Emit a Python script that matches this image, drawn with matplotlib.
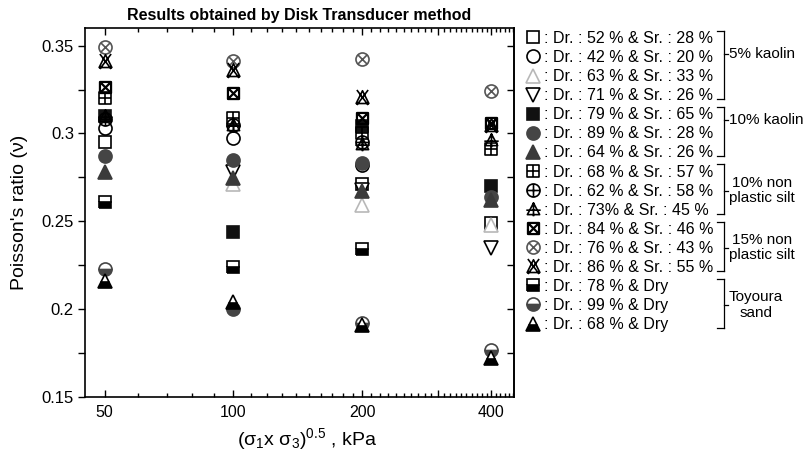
import numpy as np
import matplotlib
matplotlib.use("Agg")
import matplotlib.pyplot as plt
from matplotlib.path import Path
from matplotlib.lines import Line2D
from matplotlib.ticker import FixedLocator, FixedFormatter, NullFormatter

plt.rcParams['font.family'] = ['Liberation Sans', 'DejaVu Sans']
plt.rcParams['mathtext.fontset'] = 'custom'
plt.rcParams['mathtext.rm'] = 'Liberation Sans'
plt.rcParams['mathtext.it'] = 'Liberation Sans:italic'
plt.rcParams['mathtext.bf'] = 'Liberation Sans:bold'

nan = np.nan

# mean effective stress, kPa
stress = [50, 100, 200, 400]

# Poisson's ratio for each specimen (nan = no reading)
nu_k5_52 = [0.295, nan, 0.271, 0.249]
nu_k5_42 = [0.303, 0.2976, 0.282, nan]
nu_k5_63 = [nan, 0.271, 0.259, 0.248]
nu_k5_71 = [nan, 0.278, 0.268, 0.235]
nu_k10_79 = [0.310, 0.244, 0.304, 0.270]
nu_k10_89 = [0.287, 0.285, 0.283, 0.264]
nu_k10_64 = [0.278, 0.2745, 0.267, 0.262]
nu_s10_68 = [0.320, 0.309, 0.300, 0.291]
nu_s10_62 = [0.308, 0.305, 0.295, nan]
nu_s10_73 = [0.310, 0.305, 0.294, 0.296]
nu_s15_84 = [0.3266, 0.323, 0.309, 0.306]
nu_s15_76 = [0.349, 0.341, 0.3426, 0.324]
nu_s15_86 = [0.341, 0.336, 0.321, 0.305]
nu_ts_78 = [0.261, 0.224, 0.234, nan]
nu_ts_99 = [0.223, 0.200, 0.192, 0.177]
nu_ts_68 = [0.216, 0.204, 0.191, 0.172]

labels = [
    ": Dr. : 52 % & Sr. : 28 %",
    ": Dr. : 42 % & Sr. : 20 %",
    ": Dr. : 63 % & Sr. : 33 %",
    ": Dr. : 71 % & Sr. : 26 %",
    ": Dr. : 79 % & Sr. : 65 %",
    ": Dr. : 89 % & Sr. : 28 %",
    ": Dr. : 64 % & Sr. : 26 %",
    ": Dr. : 68 % & Sr. : 57 %",
    ": Dr. : 62 % & Sr. : 58 %",
    ": Dr. : 73% & Sr. : 45 %",
    ": Dr. : 84 % & Sr. : 46 %",
    ": Dr. : 76 % & Sr. : 43 %",
    ": Dr. : 86 % & Sr. : 55 %",
    ": Dr. : 78 % & Dry",
    ": Dr. : 99 % & Dry",
    ": Dr. : 68 % & Dry",
]

# (label, first row, last row, label offset from first row in px or None = centred)
groups = [("5% kaolin", 0, 3, 16), ("10% kaolin", 4, 6, 6),
          ("10% non\nplastic silt", 7, 9, None), ("15% non\nplastic silt", 10, 12, None),
          ("Toyoura\nsand", 13, 15, None)]

xticks_major = [50, 100, 200, 300, 400]
xtick_labels = ["50", "100", "200", "", "400"]


# ---- custom marker glyphs ----
M, L, C = Path.MOVETO, Path.LINETO, Path.CLOSEPOLY


def seg(*pts):
    return Path(pts, [M] + [L] * (len(pts) - 1))


def closed(*pts):
    return Path(list(pts) + [pts[0]], [M] + [L] * (len(pts) - 1) + [C])


sq = closed((-1, -1), (1, -1), (1, 1), (-1, 1))
circ = Path.unit_circle()

sq_plus = Path.make_compound_path(sq, seg((0, -1), (0, 1)), seg((-1, 0), (1, 0)))
sq_x = Path.make_compound_path(sq, seg((-1, -1), (1, 1)), seg((-1, 1), (1, -1)))
circ_plus = Path.make_compound_path(circ, seg((0, -1), (0, 1)), seg((-1, 0), (1, 0)))
circ_x = Path.make_compound_path(circ, seg((-0.707, -0.707), (0.707, 0.707)),
                                 seg((-0.707, 0.707), (0.707, -0.707)))
tri_plus = Path.make_compound_path(closed((-0.9, -0.75), (0.9, -0.75), (0, 0.95)),
                                   seg((0, 1.0), (0, -1.0)), seg((-1.05, -0.1), (1.05, -0.1)))
tri_x = Path.make_compound_path(closed((-0.85, -0.8), (0.85, -0.8), (0, 0.9)),
                                seg((-0.75, 1.0), (0.75, -1.0)), seg((0.75, 1.0), (-0.75, -1.0)))

MS = 9.4
MEW = 1.2

styles = [
    dict(marker='s', mfc='white', mec='black', ms=MS * 0.9),
    dict(marker='o', mfc='white', mec='black'),
    dict(marker='^', mfc='white', mec='#b8b8b8'),
    dict(marker='v', mfc='white', mec='black'),
    dict(marker='s', mfc='#111111', mec='#111111', ms=MS * 0.9),
    dict(marker='o', mfc='#454545', mec='#454545'),
    dict(marker='^', mfc='#3a3a3a', mec='#3a3a3a'),
    dict(marker=sq_plus, mfc='none', mec='black', ms=MS * 0.88),
    dict(marker=circ_plus, mfc='none', mec='black'),
    dict(marker=tri_plus, mfc='none', mec='black', ms=MS * 1.1),
    dict(marker=sq_x, mfc='none', mec='black', ms=MS * 0.85, mew=1.6),
    dict(marker=circ_x, mfc='none', mec='#555555'),
    dict(marker=tri_x, mfc='none', mec='black', ms=MS * 1.15),
    dict(marker='s', mfc='black', mfcalt='white', fillstyle='bottom', mec='black', ms=MS * 0.85),
    dict(marker='o', mfc='#454545', mfcalt='white', fillstyle='bottom', mec='#454545'),
    dict(marker='^', mfc='black', mfcalt='white', fillstyle='bottom', mec='black'),
]

series = [nu_k5_52, nu_k5_42, nu_k5_63, nu_k5_71, nu_k10_79, nu_k10_89, nu_k10_64,
          nu_s10_68, nu_s10_62, nu_s10_73, nu_s15_84, nu_s15_76, nu_s15_86,
          nu_ts_78, nu_ts_99, nu_ts_68]

W, H = 806, 455
fig = plt.figure(figsize=(W / 100, H / 100), dpi=100)
ax = fig.add_axes([85 / W, 1 - 397 / H, (514 - 85) / W, (397 - 28) / H])

handles = []
for vals, st, lab in zip(series, styles, labels):
    st = dict(st)
    ms = st.pop('ms', MS)
    mew = st.pop('mew', MEW)
    mfcalt = st.pop('mfcalt', None)
    kw = dict(linestyle='none', markersize=ms, markeredgewidth=mew,
              marker=st['marker'], markerfacecolor=st['mfc'],
              markeredgecolor=st['mec'], fillstyle=st.get('fillstyle', 'full'))
    if mfcalt is not None:
        kw['markerfacecoloralt'] = mfcalt
    h, = ax.plot(stress, vals, label=lab, **kw)
    handles.append(h)

# axes scales and ticks
ax.set_xscale('log')
ax.set_xlim(45, 452)
ax.set_ylim(0.15, 0.36)
ax.xaxis.set_major_locator(FixedLocator(xticks_major))
ax.xaxis.set_major_formatter(FixedFormatter(xtick_labels))
minor_x = [v for v in range(60, 451, 10) if v not in xticks_major]
ax.xaxis.set_minor_locator(FixedLocator(minor_x))
ax.xaxis.set_minor_formatter(NullFormatter())
ax.set_yticks([0.15, 0.2, 0.25, 0.3, 0.35])
ax.set_yticklabels(["0.15", "0.2", "0.25", "0.3", "0.35"])
ax.yaxis.set_minor_locator(FixedLocator([0.175, 0.225, 0.275, 0.325]))

ax.tick_params(axis='x', which='both', direction='in', top=True, bottom=True,
               labelsize=11.5, width=1.0, pad=6)
ax.tick_params(axis='x', which='major', length=5)
ax.tick_params(axis='x', which='minor', length=3)
ax.tick_params(axis='y', which='both', direction='out', left=True, right=False,
               labelsize=12, length=5, width=1.0, pad=3)
sec = ax.secondary_yaxis('right')
sec.set_yticks([0.175, 0.2, 0.225, 0.25, 0.275, 0.3, 0.325, 0.35])
sec.tick_params(direction='in', length=5, width=1.0, labelright=False)
sec.spines['right'].set_linewidth(1.2)
for s in ax.spines.values():
    s.set_linewidth(1.2)

ax.set_title("Results obtained by Disk Transducer method", fontsize=11.5,
             fontweight='bold', pad=6)
ax.set_ylabel("Poisson's ratio (ν)", fontsize=14, labelpad=10)
ax.set_xlabel(r"(σ$_1$x σ$_3$)$^{0.5}$ , kPa", fontsize=14, labelpad=7)
ax.xaxis.set_label_coords(0.517, -0.078)

leg = fig.legend(handles=handles, loc='upper left', bbox_to_anchor=(525 / W, 1 - 31 / H),
                 frameon=False, fontsize=11.5, handlelength=1.0, handletextpad=0.2,
                 borderpad=0, borderaxespad=0, labelspacing=0.255)

# group brackets
row0, drow = 38, 19.07


def fx(x):
    return x / W


def fy(y):
    return 1 - y / H


for name, i0, i1, off in groups:
    ytop = row0 + drow * i0 - 7
    ybot = row0 + drow * i1 + 4
    xb = 724
    for xs, ys in [([717, xb], [ytop, ytop]), ([xb, xb], [ytop, ybot]), ([717, xb], [ybot, ybot])]:
        fig.add_artist(Line2D([fx(v) for v in xs], [fy(v) for v in ys], color='black', lw=0.9))
    ymid = row0 + drow * (i0 + i1) / 2 if off is None else row0 + drow * i0 + off
    fig.add_artist(Line2D([fx(xb), fx(xb + 4)], [fy(ymid), fy(ymid)], color='black', lw=0.9))
    fig.text(fx(xb + 5), fy(ymid), name, fontsize=11, va='center', ha='left',
             multialignment='center', linespacing=1.1)

fig.savefig("out.png", dpi=100)
